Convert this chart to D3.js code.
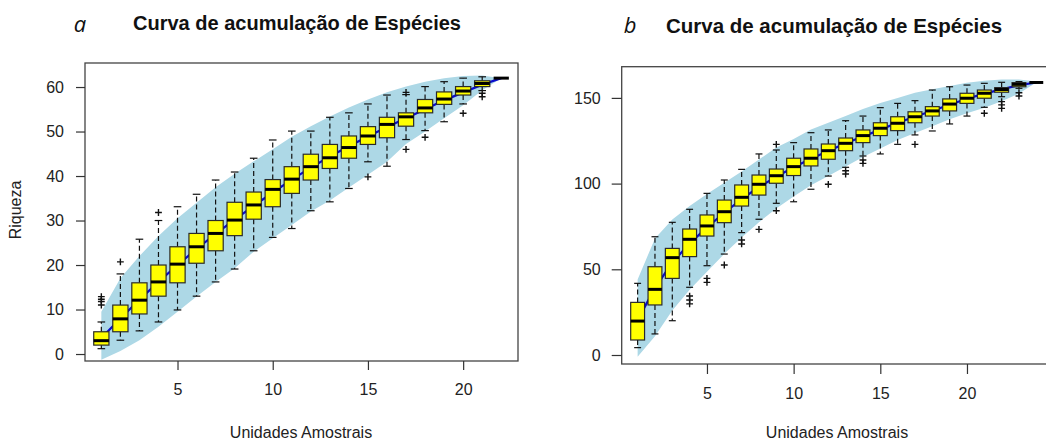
<!DOCTYPE html>
<html>
<head>
<meta charset="utf-8">
<script src="https://cdn.jsdelivr.net/npm/d3@7"></script>
<style>
  body { margin: 0; background: #fff; }
  svg { display: block; font-family: "Liberation Sans", Arial, sans-serif; }
</style>
</head>
<body>
<div id="chart"></div>
<script>
// ---- Panel a: 22 sampling units ----
const unitsA = d3.range(1, 23);
const aLow  = [1.2, 3.1, 5.2, 7.2, 9.9, 13.0, 16.2, 19.1, 23.2, 26.2, 28.2, 32.2, 34.2, 37.2, 43.2, 42.2, 48.2, 50.2, 52.2, 56.2, 59.2, 62];
const aQ1   = [2.0, 5.0, 9.0, 13.0, 16.0, 20.4, 23.2, 26.6, 30.3, 33.1, 36.1, 39.1, 41.7, 44.0, 47.1, 48.6, 51.2, 54.2, 56.1, 58.2, 60.1, 62];
const aMed  = [3.0, 7.9, 12.1, 16.2, 20.2, 24.1, 27.1, 30.1, 33.5, 37.0, 39.3, 42.1, 44.1, 46.4, 49.0, 51.6, 53.3, 55.3, 57.3, 59.1, 60.8, 62];
const aQ3   = [5.0, 11.0, 16.0, 20.0, 24.1, 27.1, 30.0, 34.1, 36.4, 39.2, 42.1, 44.9, 47.1, 49.0, 51.1, 53.2, 54.2, 57.2, 58.9, 60.1, 61.4, 62];
const aHigh = [7.2, 18.0, 25.8, 30.0, 33.1, 35.9, 39.1, 40.9, 44.0, 48.1, 50.1, 50.1, 53.2, 54.2, 56.2, 58.2, 58.3, 60.1, 61.2, 62.0, 62.3, 62];
const aOut  = [[11, 11.8, 12.3, 12.9], [20.7], [], [31.8], [], [], [], [], [], [], [], [], [], [], [39.8], [], [58.8, 46.0], [48.7], [], [54.1], [58.6, 57.8], []];
const aMean = [3.6, 8.0, 12.2, 16.2, 20.0, 23.6, 27.0, 30.2, 33.3, 36.3, 39.2, 41.9, 44.4, 46.7, 48.9, 51.0, 53.0, 55.0, 57.0, 58.8, 60.5, 62];
const aCiLow  = [-1.3, 0.7, 3.1, 6.1, 9.5, 12.9, 16.2, 19.3, 23.0, 26.0, 29.0, 32.0, 34.5, 37.4, 40.3, 43.2, 47.2, 50.0, 53.0, 55.9, 59.3, 62];
const aCiHigh = [9.5, 17.0, 22.0, 26.5, 30.5, 34.0, 37.5, 40.5, 43.3, 46.0, 48.8, 51.2, 53.4, 55.4, 57.2, 58.8, 60.1, 61.2, 62.0, 62.5, 62.6, 62];
const aYTicks = [0, 10, 20, 30, 40, 50, 60];
const aXTicks = [5, 10, 15, 20];

// ---- Panel b: 24 sampling units ----
const unitsB = d3.range(1, 25);
const bLow  = [4.3, 12.3, 20.0, 39.5, 52.1, 58.9, 71.4, 79.2, 88.5, 89.4, 96.7, 104.4, 109.5, 116.1, 117.3, 122.9, 128.4, 130.7, 134.8, 139.4, 144.5, 150.7, 155.6, 159];
const bQ1   = [8.75, 29.2, 44.7, 57.4, 69.4, 77.2, 86.9, 93.3, 100.2, 104.7, 110.3, 114.2, 119.2, 123.9, 128.0, 130.9, 135.5, 139.4, 142.4, 146.8, 149.8, 153.3, 156.5, 159];
const bMed  = [19.8, 38.3, 56.8, 67.5, 75.3, 83.6, 92.0, 99.6, 104.6, 109.9, 114.8, 119.2, 123.5, 128.0, 132.3, 135.2, 139.0, 142.4, 146.4, 149.8, 152.7, 154.9, 157.9, 159];
const bQ3   = [30.7, 51.5, 62.2, 73.5, 81.7, 90.4, 99.2, 105.0, 108.5, 114.8, 120.2, 123.1, 126.6, 131.3, 135.5, 139.0, 141.9, 144.9, 149.4, 152.7, 154.6, 156.0, 158.9, 159];
const bHigh = [41.8, 69.0, 77.4, 85.0, 94.3, 102.1, 108.3, 117.3, 119.6, 123.9, 129.7, 131.3, 136.7, 139.4, 144.3, 146.8, 148.4, 154.6, 156.5, 157.5, 158.5, 159.1, 159.5, 159];
const bOut  = [[], [], [], [34.4, 32.1, 29.8], [44.7, 42.4], [52.5], [67.1, 64.8], [73.3], [122.9, 84.2], [], [], [99.6], [107.5, 105.6], [113.8, 111.8], [], [], [122.9], [], [], [], [141.0], [147.8, 145.9, 143.9], [153.0, 151.1], []];
const bMean = [20.5, 39, 54, 65, 74.5, 83, 91, 98, 104, 109.5, 114.5, 119, 123.5, 127.5, 131.5, 135.5, 139, 142.5, 146, 149.5, 152.5, 155, 157.5, 159];
const bCiLow  = [-1, 11, 26, 38, 48.6, 59, 68.5, 77.5, 85.5, 92.5, 99, 104.5, 110, 115.5, 120.5, 125.5, 129.5, 133.5, 137.5, 141, 144.2, 148, 152.5, 159];
const bCiHigh = [44, 68, 79, 87, 94, 100.5, 107, 114, 121, 126, 131.5, 135.5, 139.5, 143.5, 147, 150, 153, 155, 157, 158.8, 160, 160.8, 160.8, 159.5];
const bYTicks = [0, 50, 100, 150];
const bXTicks = [5, 10, 15, 20];

const width = 1046;
const height = 441;

const svg = d3.select("#chart").append("svg")
    .attr("width", width)
    .attr("height", height);

function drawPanel(cfg) {
    const f = cfg.frame;
    const x = d3.scaleLinear().domain(cfg.xDomain).range([f.left, f.right]);
    const y = d3.scaleLinear().domain(cfg.yDomain).range([f.bottom, f.top]);

    const rows = cfg.units.map((u, i) => ({
        u, low: cfg.low[i], q1: cfg.q1[i], med: cfg.med[i], q3: cfg.q3[i], high: cfg.high[i], out: cfg.out[i]
    }));

    const g = svg.append("g");

    // confidence band
    g.append("path")
        .datum(cfg.units)
        .attr("d", d3.area()
            .x(d => x(d))
            .y0((d, i) => y(cfg.ciLow[i]))
            .y1((d, i) => y(cfg.ciHigh[i])))
        .attr("fill", "#add8e6");

    // mean richness
    g.append("path")
        .datum(cfg.units)
        .attr("d", d3.line().x(d => x(d)).y((d, i) => y(cfg.mean[i])))
        .attr("fill", "none")
        .attr("stroke", "#0a0acc")
        .attr("stroke-width", 2.2);

    const half = x(0.4) - x(0);
    const cap = half * 0.5;

    const boxes = g.selectAll(".box").data(rows).join("g").attr("class", "box");

    // whiskers
    boxes.append("line")
        .attr("x1", d => x(d.u)).attr("x2", d => x(d.u))
        .attr("y1", d => y(d.q3)).attr("y2", d => y(d.high))
        .attr("stroke", "#111").attr("stroke-width", 1.2).attr("stroke-dasharray", "5,3");
    boxes.append("line")
        .attr("x1", d => x(d.u)).attr("x2", d => x(d.u))
        .attr("y1", d => y(d.q1)).attr("y2", d => y(d.low))
        .attr("stroke", "#111").attr("stroke-width", 1.2).attr("stroke-dasharray", "5,3");
    boxes.append("line")
        .attr("x1", d => x(d.u) - cap).attr("x2", d => x(d.u) + cap)
        .attr("y1", d => y(d.high)).attr("y2", d => y(d.high))
        .attr("stroke", "#111").attr("stroke-width", 1.2);
    boxes.append("line")
        .attr("x1", d => x(d.u) - cap).attr("x2", d => x(d.u) + cap)
        .attr("y1", d => y(d.low)).attr("y2", d => y(d.low))
        .attr("stroke", "#111").attr("stroke-width", 1.2);

    // box
    boxes.append("rect")
        .attr("x", d => x(d.u) - half)
        .attr("width", half * 2)
        .attr("y", d => y(d.q3))
        .attr("height", d => y(d.q1) - y(d.q3))
        .attr("fill", "#ffff00")
        .attr("stroke", "#2a2a2a")
        .attr("stroke-width", 1.2);

    // median
    boxes.append("line")
        .attr("x1", d => x(d.u) - half).attr("x2", d => x(d.u) + half)
        .attr("y1", d => y(d.med)).attr("y2", d => y(d.med))
        .attr("stroke", "#000").attr("stroke-width", 3);

    // outliers as "+"
    const pts = rows.flatMap(d => d.out.map(v => ({ u: d.u, v })));
    g.selectAll(".out").data(pts).join("path")
        .attr("class", "out")
        .attr("d", d => {
            const cx = x(d.u), cy = y(d.v), s = 3.4;
            return `M${cx - s},${cy}H${cx + s}M${cx},${cy - s}V${cy + s}`;
        })
        .attr("stroke", "#111").attr("stroke-width", 1.4);

    // frame
    svg.append("rect")
        .attr("x", f.left).attr("y", f.top)
        .attr("width", f.right - f.left).attr("height", f.bottom - f.top)
        .attr("fill", "none").attr("stroke", "#444").attr("stroke-width", 1.3);

    // axes
    const yAxis = svg.append("g")
        .attr("transform", `translate(${f.left},0)`)
        .call(d3.axisLeft(y).tickValues(cfg.yTicks).tickSize(cfg.tick).tickPadding(cfg.yPad));
    const xAxis = svg.append("g")
        .attr("transform", `translate(0,${f.bottom})`)
        .call(d3.axisBottom(x).tickValues(cfg.xTicks).tickSize(cfg.tick).tickPadding(14));
    [yAxis, xAxis].forEach(a => {
        a.select(".domain").remove();
        a.selectAll(".tick line").attr("stroke", "#333").attr("stroke-width", 1.2);
        a.selectAll(".tick text")
            .attr("fill", "#222")
            .style("font-size", "16px")
            .style("font-family", "'Liberation Sans', Arial, sans-serif");
    });

    // x title
    svg.append("text")
        .attr("x", cfg.xTitle.x).attr("y", cfg.xTitle.y)
        .attr("text-anchor", "middle")
        .attr("fill", "#222")
        .style("font-size", "16px")
        .text("Unidades Amostrais");

    // main title
    svg.append("text")
        .attr("x", cfg.title.x).attr("y", cfg.title.y)
        .attr("text-anchor", "middle")
        .attr("fill", "#111")
        .style("font-size", cfg.title.size + "px")
        .style("font-weight", "bold")
        .text("Curva de acumulação de Espécies");

    // panel letter
    svg.append("text")
        .attr("x", cfg.letter.x).attr("y", cfg.letter.y)
        .attr("text-anchor", "middle")
        .attr("fill", "#111")
        .style("font-size", "22px")
        .style("font-style", "italic")
        .style("font-family", "'Open Sans', 'Liberation Sans', sans-serif")
        .text(cfg.letter.t);
}

drawPanel({
    frame: { left: 85, right: 518, top: 63, bottom: 361 },
    xDomain: [0.142, 22.88],
    yDomain: [-1.57, 65.4],
    units: unitsA, low: aLow, q1: aQ1, med: aMed, q3: aQ3, high: aHigh, out: aOut,
    mean: aMean, ciLow: aCiLow, ciHigh: aCiHigh,
    yTicks: aYTicks, xTicks: aXTicks, tick: 9, yPad: 12,
    xTitle: { x: 301, y: 438 },
    title: { x: 297, y: 30, size: 20 },
    letter: { x: 80, y: 32, t: "a" }
});

drawPanel({
    frame: { left: 621.7, right: 1050, top: 66.7, bottom: 364 },
    xDomain: [0.081, 24.79],
    yDomain: [-5.25, 168.2],
    units: unitsB, low: bLow, q1: bQ1, med: bMed, q3: bQ3, high: bHigh, out: bOut,
    mean: bMean, ciLow: bCiLow, ciHigh: bCiHigh,
    yTicks: bYTicks, xTicks: bXTicks, tick: 10, yPad: 11,
    xTitle: { x: 837, y: 438 },
    title: { x: 834, y: 33, size: 20.5 },
    letter: { x: 630, y: 33, t: "b" }
});

// y title (panel a only)
svg.append("text")
    .attr("transform", "translate(21,210) rotate(-90)")
    .attr("text-anchor", "middle")
    .attr("fill", "#222")
    .style("font-size", "16px")
    .text("Riqueza");
</script>
</body>
</html>
